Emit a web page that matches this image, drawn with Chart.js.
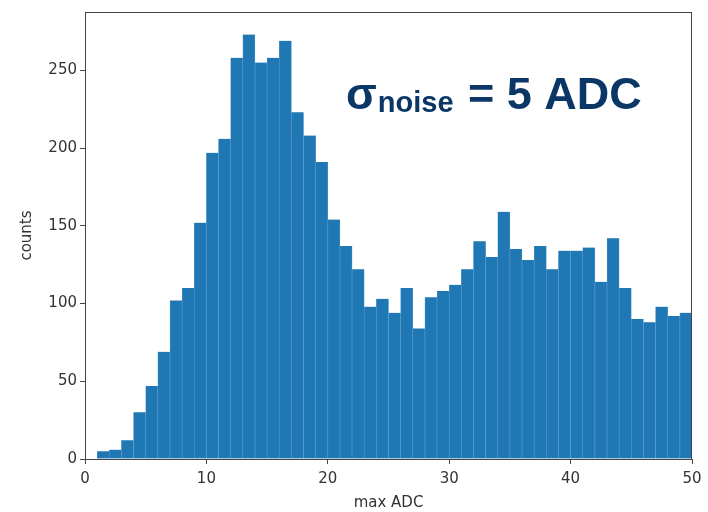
<!DOCTYPE html>
<html>
<head>
<meta charset="utf-8">
<script src="https://cdn.jsdelivr.net/npm/chart.js@4/dist/chart.umd.min.js"></script>
<style>
  html, body { margin: 0; padding: 0; background: #fff; }
  canvas { display: block; }
</style>
</head>
<body>
<canvas id="chart" width="708" height="512"></canvas>
<script>
/* histogram bins: left edge of each bin of width 1 */
const binEdges = Array.from({ length: 50 }, (_, i) => i)
const counts = [
  0, 5, 6, 12, 30, 47, 69, 102, 110, 152,
  197, 206, 258, 273, 255, 258, 269, 223, 208, 191,
  154, 137, 122, 98, 103, 94, 110, 84, 104, 108,
  112, 122, 140, 130, 159, 135, 128, 137, 122, 134,
  134, 136, 114, 142, 110, 90, 88, 98, 92, 94
]
const xTicks = [0, 10, 20, 30, 40, 50]
const yTicks = [0, 50, 100, 150, 200, 250]
const xLabel = 'max ADC'
const yLabel = 'counts'
/* annotation text and where it sits, in data units */
const noteMain = 'σ'
const noteSub = 'noise'
const noteRest = ' = 5 ADC'
const noteAt = { x: 21.5, y: 225 }

const tickFont = { family: 'DejaVu Sans', size: 15 }
const tickColor = '#333'

/* frame around the plot and the big annotation */
const framePlugin = {
  id: 'frame',
  afterDraw(chart) {
    const { ctx, chartArea: a, scales } = chart
    ctx.save()
    ctx.strokeStyle = '#444'
    ctx.lineWidth = 1
    ctx.strokeRect(a.left + 0.5, a.top + 0.5, a.right - a.left - 1, a.bottom - a.top)

    let x = scales.x.getPixelForValue(noteAt.x)
    const y = scales.y.getPixelForValue(noteAt.y)
    ctx.fillStyle = '#0b3766'
    ctx.textBaseline = 'alphabetic'
    ctx.font = 'bold 45px "Liberation Sans", Arial, sans-serif'
    ctx.fillText(noteMain, x, y)
    x += ctx.measureText(noteMain).width + 1
    ctx.font = 'bold 29px "Liberation Sans", Arial, sans-serif'
    ctx.fillText(noteSub, x, y + 3)
    x += ctx.measureText(noteSub).width + 2
    ctx.font = 'bold 45px "Liberation Sans", Arial, sans-serif'
    ctx.fillText(noteRest, x, y)
    ctx.restore()
  }
}

new Chart(document.querySelector('#chart'), {
  type: 'bar',
  data: {
    datasets: [{
      data: binEdges.map((e, i) => ({ x: e + 0.5, y: counts[i] })),
      backgroundColor: '#1f77b4',
      borderColor: '#5c9dd0',
      borderWidth: { left: 0.6, right: 0.6, top: 0, bottom: 0 },
      barPercentage: 1,
      categoryPercentage: 1
    }]
  },
  options: {
    responsive: false,
    animation: false,
    layout: { padding: { top: 7, right: 16, left: 0, bottom: 0 } },
    plugins: { legend: { display: false }, tooltip: { enabled: false } },
    scales: {
      x: {
        type: 'linear',
        min: 0,
        max: 50,
        offset: false,
        afterFit: (s) => { s.height = 53 },
        afterBuildTicks: (s) => { s.ticks = xTicks.map(v => ({ value: v })) },
        grid: { offset: false, drawOnChartArea: false, drawTicks: true, tickLength: 5, color: '#444' },
        border: { display: false },
        ticks: { font: tickFont, color: tickColor, padding: 6, maxRotation: 0 },
        title: { display: true, text: xLabel, font: { family: 'DejaVu Sans', size: 15 }, color: tickColor, padding: { top: 0, bottom: 0 } }
      },
      y: {
        min: 0,
        max: 287.5,
        afterFit: (s) => { s.width = 85 },
        afterBuildTicks: (s) => { s.ticks = yTicks.map(v => ({ value: v })) },
        grid: { drawOnChartArea: false, drawTicks: true, tickLength: 5, color: '#444' },
        border: { display: false },
        ticks: { font: tickFont, color: tickColor, padding: 3 },
        title: { display: true, text: yLabel, font: { family: 'DejaVu Sans', size: 15 }, color: tickColor, padding: { top: 18, bottom: 0 } }
      }
    }
  },
  plugins: [framePlugin]
})
</script>
</body>
</html>
